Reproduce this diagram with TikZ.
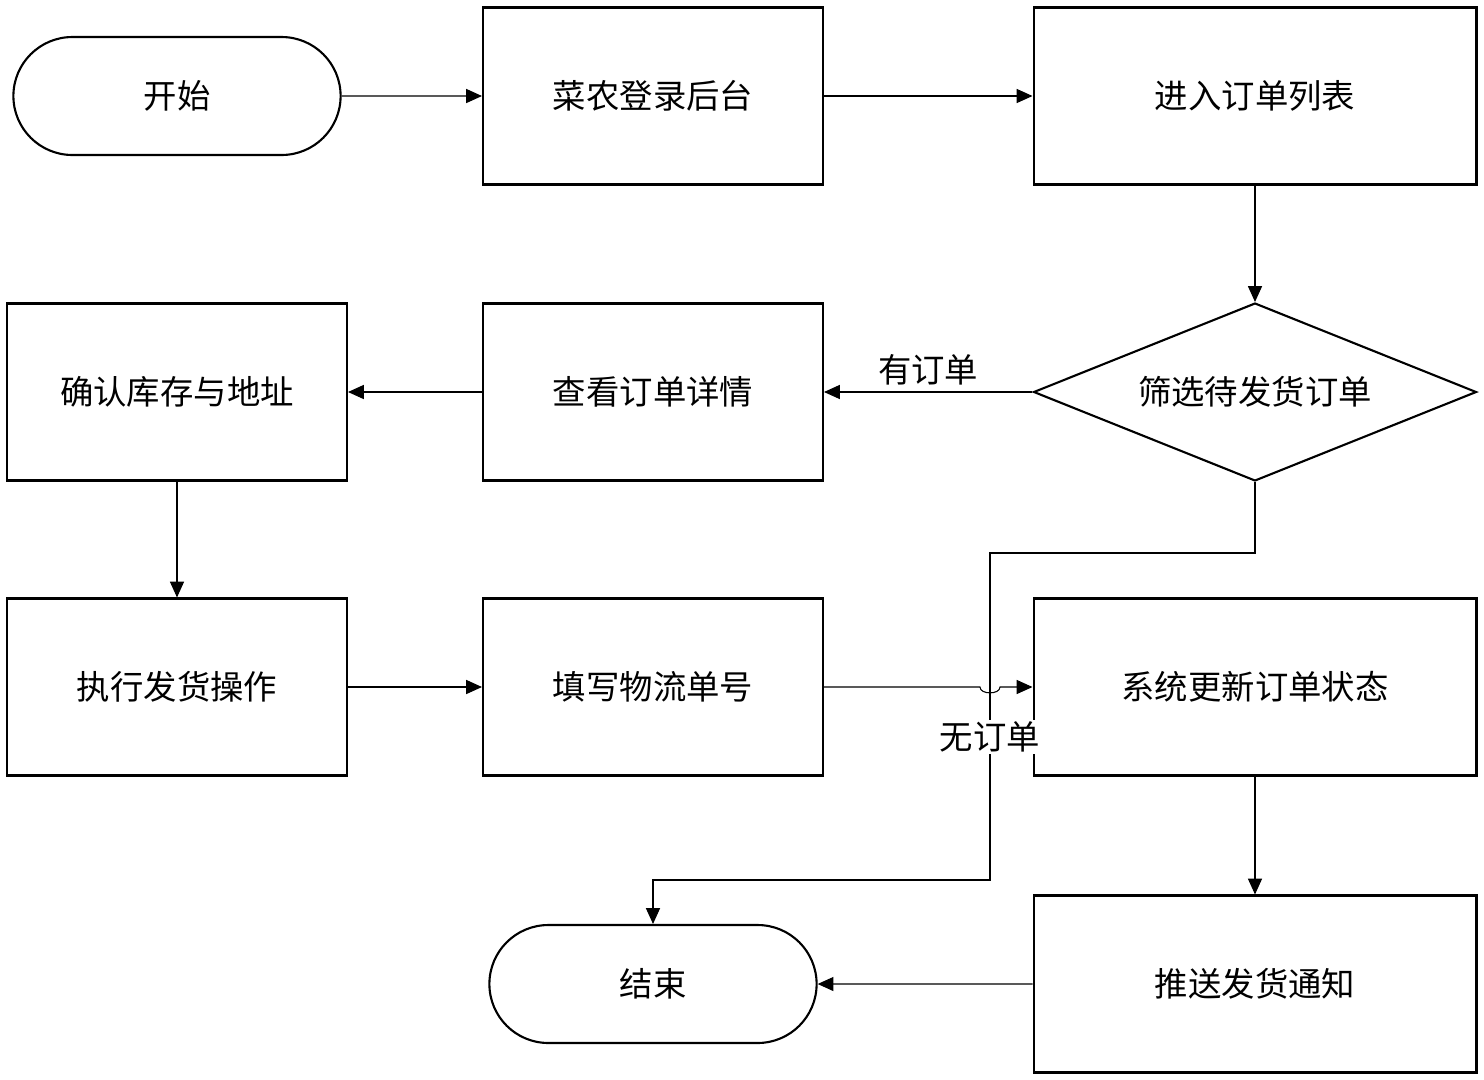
\documentclass[tikz,border=0pt]{standalone}
\usepackage{fontspec}
\setmainfont{Noto Sans CJK SC}
\usetikzlibrary{shapes.geometric,shapes.misc,arrows.meta}
\begin{document}
\begin{tikzpicture}[x=0.02cm,y=-0.02cm,
    box/.style={draw,line width=1.2pt,minimum width=6.8cm,minimum height=3.54cm,font=\fontsize{19}{19}\selectfont},
    widebox/.style={box,minimum width=8.86cm},
    term/.style={draw,line width=1.2pt,rounded rectangle,minimum width=6.78cm,minimum height=2.36cm,font=\fontsize{19}{19}\selectfont},
    decide/.style={draw,line width=1.2pt,diamond,aspect=2.5,minimum width=8.86cm,minimum height=3.56cm,inner sep=0pt,font=\fontsize{19}{19}\selectfont},
    flow/.style={-{Triangle[length=9pt,width=8pt]},line width=0.6pt}]
  \useasboundingbox (0,0) rectangle (1484,1079);
  \node [term] (start) at (177,96) {开始};
  \node [box] (login) at (653,96) {菜农登录后台};
  \node [widebox] (list) at (1255,96) {进入订单列表};
  \node [decide] (filter) at (1255,392) {筛选待发货订单};
  \node [box] (detail) at (653,392) {查看订单详情};
  \node [box] (confirm) at (177,392) {确认库存与地址};
  \node [box] (ship) at (177,687) {执行发货操作};
  \node [box] (track) at (653,687) {填写物流单号};
  \node [widebox] (update) at (1255,687) {系统更新订单状态};
  \node [widebox] (notify) at (1255,984) {推送发货通知};
  \node [term] (finish) at (653,984) {结束};
  \draw [flow] (start) -- (login);
  \draw [flow] (login) -- (list);
  \draw [flow] (list) -- (filter);
  \draw [flow] (filter) -- node [above,font=\fontsize{19}{19}\selectfont] {有订单} (detail);
  \draw [flow] (detail) -- (confirm);
  \draw [flow] (confirm) -- (ship);
  \draw [flow] (ship) -- (track);
  \draw [flow] (track.east) -- (980,687) to [out=-90,in=-90] (1000,687) -- (update.west);
  \draw [flow] (update) -- (notify);
  \draw [flow] (notify) -- (finish);
  \draw [flow] (filter.south) -- (1255,553) -- (990,553) -- (990,880) -- (653,880) -- (finish.north);
  \node [fill=white,inner sep=1pt,font=\fontsize{19}{19}\selectfont] (none) at (990,737) {无订单};
\end{tikzpicture}
\end{document}
